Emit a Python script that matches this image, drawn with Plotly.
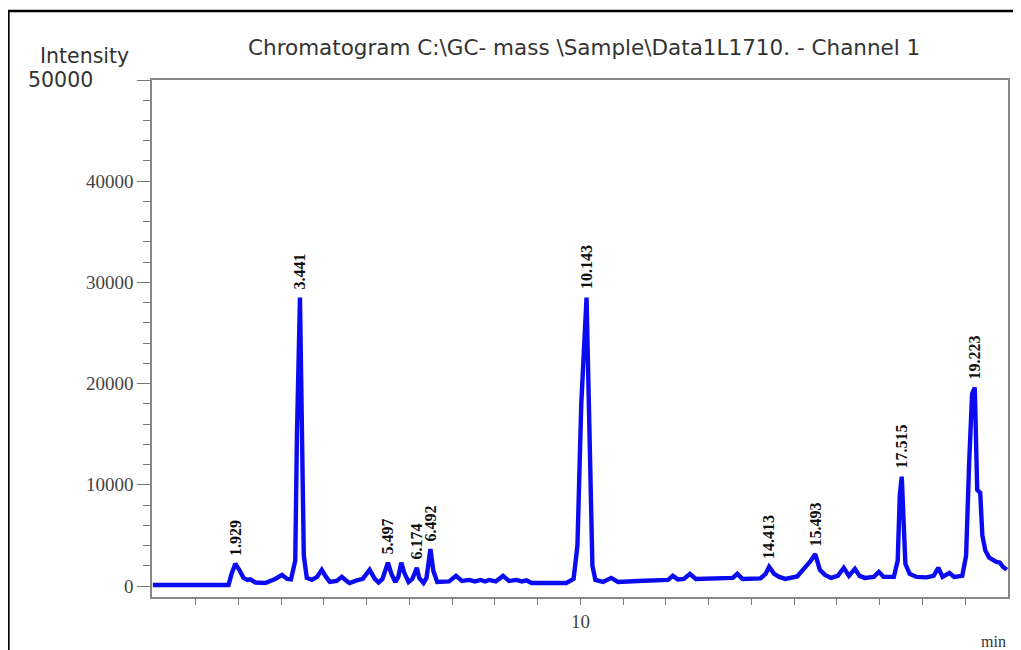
import plotly.graph_objects as go

# Chromatogram trace (retention time in min, intensity)
time_min = [0.00, 1.77, 1.84, 1.929, 2.02, 2.12, 2.21, 2.28, 2.40, 2.63, 2.86, 3.02, 3.14, 3.23,
            3.33, 3.37, 3.441, 3.49, 3.53, 3.60, 3.72, 3.84, 3.95, 4.05, 4.14, 4.30, 4.42, 4.53,
            4.60, 4.77, 4.91, 5.07, 5.19, 5.28, 5.37, 5.497, 5.58, 5.67, 5.74, 5.81, 5.88, 5.98,
            6.07, 6.174, 6.23, 6.33, 6.40, 6.492, 6.56, 6.65, 6.93, 7.09, 7.23, 7.40, 7.53, 7.67,
            7.77, 7.86, 8.02, 8.19, 8.33, 8.51, 8.63, 8.74, 8.86, 9.67, 9.84, 9.93, 10.02, 10.143,
            10.21, 10.28, 10.35, 10.53, 10.72, 10.88, 11.35, 11.81, 12.05, 12.16, 12.28, 12.42,
            12.56, 12.70, 13.05, 13.33, 13.56, 13.67, 13.79, 14.21, 14.33, 14.413, 14.53, 14.65,
            14.79, 15.07, 15.23, 15.37, 15.493, 15.60, 15.72, 15.86, 16.02, 16.16, 16.28, 16.42,
            16.53, 16.65, 16.86, 16.98, 17.09, 17.33, 17.42, 17.47, 17.515, 17.56, 17.60, 17.70,
            17.86, 18.09, 18.26, 18.37, 18.47, 18.63, 18.74, 18.93, 19.02, 19.09, 19.16, 19.223,
            19.26, 19.28, 19.35, 19.40, 19.47, 19.56, 19.72, 19.81, 19.88, 19.97]
intensity = [100, 100, 1200, 2200, 1600, 800, 600, 650, 350, 300, 700, 1100, 700, 650,
             2500, 15000, 28500, 15000, 3000, 800, 600, 900, 1600, 900, 400, 500, 900, 500,
             300, 550, 700, 1600, 700, 350, 700, 2300, 1200, 400, 900, 2300, 1300, 400,
             700, 1800, 800, 300, 800, 3650, 1500, 400, 450, 1000, 500, 600, 450, 600,
             450, 600, 450, 1000, 500, 600, 450, 550, 300, 300, 700, 4000, 18000, 28500,
             15000, 2000, 600, 400, 800, 400, 500, 550, 600, 1000, 650, 700,
             1200, 700, 700, 800, 800, 1200, 700, 750, 1200, 1900, 1200, 900,
             700, 950, 1700, 2400, 3150, 1600, 1100, 800, 1000, 1800, 1000, 1700,
             1000, 800, 900, 1400, 900, 900, 2500, 9000, 10800, 5000, 2200, 1200,
             900, 850, 1000, 1800, 900, 1300, 900, 1000, 3000, 12000, 19000, 19600,
             14000, 9500, 9200, 5000, 3500, 2800, 2400, 2300, 1900, 1600]

# Labelled peaks
peak_labels = ["1.929", "3.441", "5.497", "6.174", "6.492", "10.143",
               "14.413", "15.493", "17.515", "19.223"]
peak_heights = [2200, 28500, 2300, 1800, 3650, 28500, 1900, 3150, 10800, 19600]

y_tick_vals = [0, 10000, 20000, 30000, 40000, 50000]
y_tick_text = ["0", "10000", "20000", "30000", "40000", ""]
x_tick_vals = list(range(1, 20))
x_tick_text = ["10" if v == 10 else "" for v in x_tick_vals]

title_text = "Chromatogram C:\\GC- mass \\Sample\\Data1L1710. - Channel 1"

fig = go.Figure()
fig.add_trace(go.Scatter(x=time_min, y=intensity, mode="lines",
                         line=dict(color="#0b0bf2", width=4.4), hoverinfo="x+y"))

serif = "Liberation Serif, Times New Roman, serif"
sans = "DejaVu Sans, Verdana, sans-serif"

for lab, h in zip(peak_labels, peak_heights):
    fig.add_annotation(x=float(lab), y=h, text="<b>%s</b>" % lab, showarrow=False,
                       textangle=-90, xanchor="center", yanchor="bottom", yshift=6,
                       font=dict(family=serif, size=16, color="#111"))

fig.add_annotation(text=title_text, xref="paper", yref="paper", x=0.505, y=1.062,
                   showarrow=False, xanchor="center", yanchor="middle",
                   font=dict(family=sans, size=21.5, color="#333"))
fig.add_annotation(text="Intensity", xref="paper", yref="paper", x=-0.1329, y=1.047,
                   showarrow=False, xanchor="left", yanchor="middle",
                   font=dict(family=sans, size=20.5, color="#333"))
fig.add_annotation(text="50000", xref="paper", yref="paper", x=-0.1469, y=1.0,
                   showarrow=False, xanchor="left", yanchor="middle",
                   font=dict(family=sans, size=20.5, color="#333"))
fig.add_annotation(text="min", xref="paper", yref="paper", x=1.0, y=-0.086,
                   showarrow=False, xanchor="right", yanchor="middle",
                   font=dict(family=serif, size=16, color="#333"))

# outer black frame
fig.add_shape(type="rect", xref="paper", yref="paper", x0=-0.1678, x1=1.05,
              y0=-0.2, y1=1.1335, line=dict(color="black", width=2.5))

fig.update_xaxes(range=[-0.02, 20.0], tickvals=x_tick_vals, ticktext=x_tick_text,
                 ticks="outside", ticklen=6, tickcolor="#777", tickwidth=1.2,
                 showline=True, linecolor="#888", linewidth=1.5, mirror=True,
                 showgrid=False, zeroline=False,
                 tickfont=dict(family=serif, size=19, color="#444"))
fig.update_yaxes(range=[-1087, 50000], tickvals=y_tick_vals, ticktext=y_tick_text,
                 ticks="outside", ticklen=13, tickcolor="#777", tickwidth=1.2,
                 minor=dict(tickvals=[v for v in range(2000, 50000, 2000) if v % 10000],
                            ticks="outside", ticklen=7, tickcolor="#777", tickwidth=1.2),
                 showline=True, linecolor="#888", linewidth=1.5, mirror=True,
                 showgrid=False, zeroline=False,
                 tickfont=dict(family=serif, size=19, color="#444"))

# page body has an 8px margin, so the figure is sized to fill the rest of the window
fig.update_layout(width=1013, height=642, margin=dict(l=144, r=11, t=72, b=53),
                  paper_bgcolor="white", plot_bgcolor="white", showlegend=False)

fig.write_html("out.html")
